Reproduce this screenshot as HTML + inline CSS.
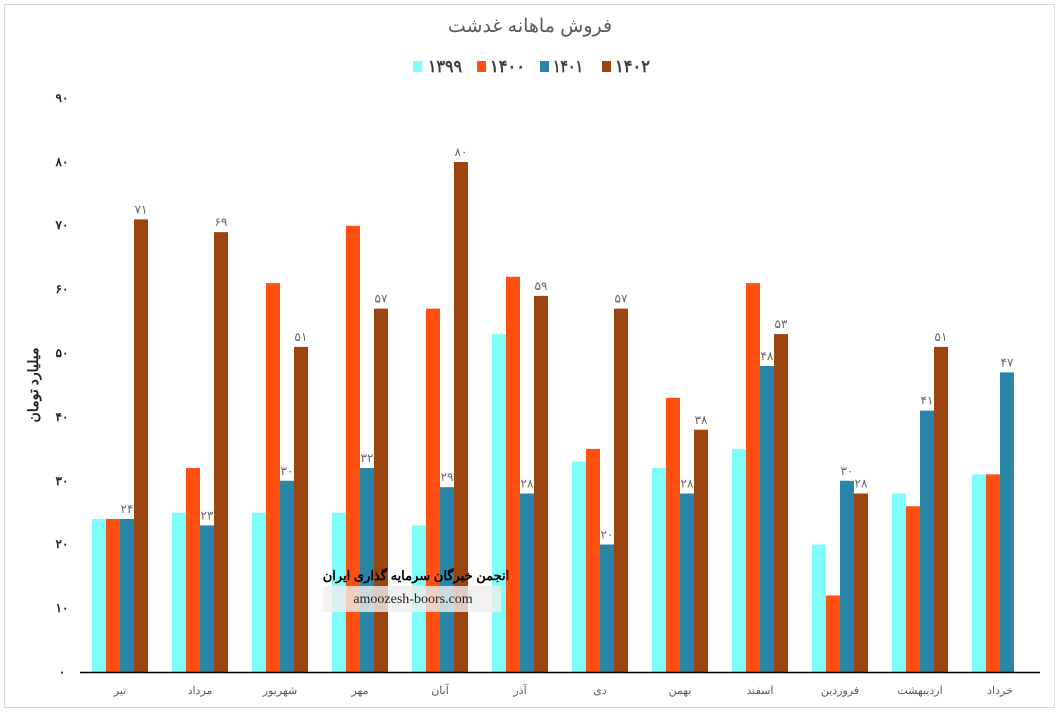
<!DOCTYPE html>
<html><head><meta charset="utf-8"><style>
body{margin:0;background:#fff}
svg text{font-family:"Liberation Sans","Noto Sans CJK SC",sans-serif}
</style></head><body>
<svg width="1060" height="713" xmlns="http://www.w3.org/2000/svg">
<rect x="4.5" y="4.5" width="1050" height="703" fill="#fff" stroke="#d9d9d9"/>
<text x="530" y="32" text-anchor="middle" font-size="19" fill="#595959">فروش ماهانه غدشت</text>
<g font-size="17" font-weight="bold" fill="#404040">
<rect x="413" y="61" width="9" height="11" fill="#7ffcfc"/><text x="428" y="72" textLength="34" lengthAdjust="spacingAndGlyphs">۱۳۹۹</text>
<rect x="477" y="61" width="9" height="11" fill="#ff5010"/><text x="490" y="72" textLength="35" lengthAdjust="spacingAndGlyphs">۱۴۰۰</text>
<rect x="540" y="61" width="9" height="11" fill="#2a86a6"/><text x="553" y="72" textLength="30" lengthAdjust="spacingAndGlyphs">۱۴۰۱</text>
<rect x="602" y="61" width="9" height="11" fill="#9c4510"/><text x="615" y="72" textLength="35" lengthAdjust="spacingAndGlyphs">۱۴۰۲</text>
</g>
<g font-size="12" font-weight="bold" fill="#222" text-anchor="middle">
<text x="62" y="676">۰</text><text x="62" y="612">۱۰</text><text x="62" y="548">۲۰</text>
<text x="62" y="485">۳۰</text><text x="62" y="421">۴۰</text><text x="62" y="357">۵۰</text>
<text x="62" y="293">۶۰</text><text x="62" y="229">۷۰</text><text x="62" y="166">۸۰</text>
<text x="62" y="102">۹۰</text>
</g>
<text transform="translate(38,385) rotate(-90)" text-anchor="middle" font-size="14" font-weight="bold" fill="#222">میلیارد تومان</text>
<g id="bars"></g>
<line x1="80" y1="672.5" x2="1040" y2="672.5" stroke="#000" stroke-width="1.5"/>
<g font-size="11" fill="#595959" text-anchor="middle" id="xl"></g>
<g font-size="12" fill="#666" text-anchor="middle" id="dl"></g>
<rect x="323" y="586" width="178" height="26" fill="#eee" opacity="0.8"/>
<text x="416" y="580" text-anchor="middle" font-size="13" font-weight="bold" fill="#000">انجمن خبرگان سرمایه گذاری ایران</text>
<text x="413" y="603" text-anchor="middle" font-size="14" fill="#222" style="font-family:'Liberation Serif',serif">amoozesh-boors.com</text>
</svg>
<script>
const d=[[24,24,24,71],[25,32,23,69],[25,61,30,51],[25,70,32,57],[23,57,29,80],[53,62,28,59],[33,35,20,57],[32,43,28,38],[35,61,48,53],[20,12,30,28],[28,26,41,51],[31,31,47,null]];
const n=['تیر','مرداد','شهریور','مهر','آبان','آذر','دی','بهمن','اسفند','فروردین','اردیبهشت','خرداد'];
const c=['#7ffcfc','#ff5010','#2a86a6','#9c4510'];
const fa=v=>String(v).replace(/\d/g,x=>'۰۱۲۳۴۵۶۷۸۹'[x]);
const ns='http://www.w3.org/2000/svg';
const B=document.getElementById('bars'),X=document.getElementById('xl'),D=document.getElementById('dl');
d.forEach((g,i)=>{const cx=120+80*i;
 g.forEach((v,j)=>{if(v==null)return;const h=v*6.375;const r=document.createElementNS(ns,'rect');
 r.setAttribute('x',cx-28+14*j);r.setAttribute('y',672-h);r.setAttribute('width',14);r.setAttribute('height',h);r.setAttribute('fill',c[j]);B.appendChild(r);});
 const t=document.createElementNS(ns,'text');t.setAttribute('x',cx);t.setAttribute('y',694);t.textContent=n[i];X.appendChild(t);
 [2,3].forEach(j=>{const v=g[j];if(v==null)return;
  const t2=document.createElementNS(ns,'text');t2.setAttribute('x',cx-28+14*j+7);t2.setAttribute('y',672-v*6.375-6);t2.textContent=fa(v);D.appendChild(t2);});
});
</script>
</body></html>
